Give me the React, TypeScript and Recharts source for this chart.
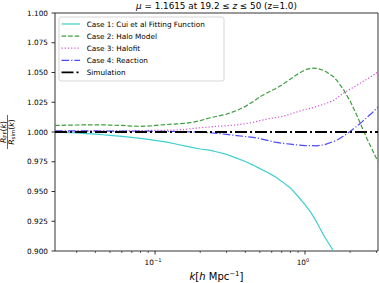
import React from 'react';
import { LineChart, Line, XAxis, YAxis, ReferenceArea, Customized } from 'recharts';

const FONT = '"DejaVu Sans", sans-serif';

const K_VALUES = [0.0215, 0.025, 0.03, 0.035, 0.04, 0.045, 0.05, 0.06, 0.07, 0.08, 0.09, 0.1, 0.12, 0.14, 0.16, 0.18, 0.2, 0.23, 0.26, 0.3, 0.35, 0.4, 0.45, 0.5, 0.56, 0.63, 0.7, 0.8, 0.9, 1.0, 1.1, 1.2, 1.35, 1.55, 1.65, 1.8, 2.0, 2.2, 2.4, 2.6, 2.8, 3.07];

const CASE1 = [1.0, 0.9997, 0.9992, 0.9987, 0.9982, 0.9977, 0.9972, 0.9964, 0.9955, 0.9947, 0.9938, 0.993, 0.9915, 0.9897, 0.9882, 0.9868, 0.9857, 0.9847, 0.9832, 0.9812, 0.978, 0.9752, 0.9722, 0.9692, 0.9662, 0.9625, 0.9585, 0.953, 0.9458, 0.939, 0.932, 0.924, 0.912, 0.9, null, null, null, null, null, null, null, null];

const CASE2 = [1.0055, 1.0057, 1.0059, 1.006, 1.006, 1.006, 1.0058, 1.0055, 1.005, 1.0048, 1.005, 1.0055, 1.0063, 1.0068, 1.0073, 1.0083, 1.0095, 1.0118, 1.0133, 1.015, 1.018, 1.0215, 1.0255, 1.0295, 1.033, 1.0362, 1.0395, 1.0445, 1.049, 1.0522, 1.0537, 1.0535, 1.0515, 1.0465, 1.0425, 1.036, 1.026, 1.015, 1.004, 0.994, 0.9855, 0.975];

const CASE3 = [1.0005, 1.0006, 1.0007, 1.0008, 1.0008, 1.0009, 1.001, 1.001, 1.001, 1.0012, 1.0013, 1.0013, 1.0015, 1.0017, 1.0022, 1.003, 1.0036, 1.0042, 1.0048, 1.0053, 1.006, 1.007, 1.008, 1.0095, 1.011, 1.012, 1.013, 1.015, 1.0172, 1.019, 1.02, 1.0215, 1.0235, 1.0265, 1.029, 1.0325, 1.036, 1.039, 1.042, 1.0445, 1.047, 1.0505];

const CASE4 = [1.001, 1.001, 1.001, 1.001, 1.001, 1.0008, 1.0008, 1.0008, 1.0007, 1.0008, 1.0007, 1.0006, 1.0005, 1.0004, 1.0003, 1.0001, 0.9999, 0.9994, 0.9988, 0.998, 0.997, 0.9962, 0.9955, 0.9945, 0.993, 0.9915, 0.9905, 0.9898, 0.989, 0.9886, 0.9885, 0.9884, 0.9893, 0.992, 0.9935, 0.9965, 1.0005, 1.0045, 1.0085, 1.0125, 1.016, 1.021];

const SIMULATION = K_VALUES.map(() => 1.0);

const X_DOMAIN: [number, number] = [0.0215, 3.07];
const Y_DOMAIN: [number, number] = [0.9, 1.1];
const X_MAJOR = [0.1, 1];
const X_TICKS = [0.03, 0.04, 0.05, 0.06, 0.07, 0.08, 0.09, 0.1, 0.2, 0.3, 0.4, 0.5, 0.6, 0.7, 0.8, 0.9, 1, 2, 3];
const Y_TICKS = [0.9, 0.925, 0.95, 0.975, 1.0, 1.025, 1.05, 1.075, 1.1];

const SERIES = [
  { key: 'case1', label: 'Case 1: Cui et al Fitting Function', color: '#3fcfcf', dash: undefined as string | undefined, width: 1.2 },
  { key: 'case2', label: 'Case 2: Halo Model', color: '#3f9f3f', dash: '4.6 2', width: 1.2 },
  { key: 'case3', label: 'Case 3: Halofit', color: '#d24fd2', dash: '1.2 2', width: 1.2 },
  { key: 'case4', label: 'Case 4: Reaction', color: '#4a4aff', dash: '7.7 2 1.2 2', width: 1.2 },
  { key: 'sim', label: 'Simulation', color: '#000000', dash: '12 3 2 3', width: 1.9 },
];

const DATA = K_VALUES.map((k, i) => ({
  k,
  case1: CASE1[i],
  case2: CASE2[i],
  case3: CASE3[i],
  case4: CASE4[i],
  sim: SIMULATION[i],
}));

const XTick = (props: any) => {
  const { x, y, payload } = props;
  const v = payload.value;
  const major = X_MAJOR.some((m) => Math.abs(m - v) < 1e-9);
  const exp = Math.round(Math.log10(v));
  return (
    <g>
      <line x1={x} x2={x} y1={y} y2={y + (major ? 3.5 : 2)} stroke="#000" strokeWidth={major ? 0.8 : 0.6} />
      {major && (
        <text x={x - 2} y={y + 14} textAnchor="middle" fontSize={7.3} fontFamily={FONT} fill="#000">
          10
          <tspan dy={-3.2} fontSize={5.2}>{exp < 0 ? '\u2212' + Math.abs(exp) : String(exp)}</tspan>
        </text>
      )}
    </g>
  );
};

const YTick = (props: any) => {
  const { x, y, payload } = props;
  return (
    <g>
      <line x1={x} x2={x - 3.5} y1={y} y2={y} stroke="#000" strokeWidth={0.8} />
      <text x={x - 7} y={y} dy="0.35em" textAnchor="end" fontSize={7.3} fontFamily={FONT} fill="#000">
        {Number(payload.value).toFixed(3)}
      </text>
    </g>
  );
};

const Decorations = () => {
  const lx = 59;
  const ly = 17;
  const rowH = 12.1;
  return (
    <g fontFamily={FONT}>
      <text x={216.5} y={8.5} textAnchor="middle" fontSize={8.8} fill="#000">
        <tspan fontStyle="italic">μ</tspan>
        <tspan> = 1.1615 at 19.2 ≤ </tspan>
        <tspan fontStyle="italic">z</tspan>
        <tspan> ≤ 50 (z=1.0)</tspan>
      </text>
      <text x={216.5} y={280} textAnchor="middle" fontSize={10} fill="#000">
        <tspan fontStyle="italic">k</tspan>
        <tspan>[</tspan>
        <tspan fontStyle="italic">h</tspan>
        <tspan> Mpc</tspan>
        <tspan dy={-4} fontSize={7}>{'\u22121'}</tspan>
        <tspan dy={4}>]</tspan>
      </text>
      <g transform="rotate(-90, 7.5, 132)">
        <text x={7.5} y={130.2} textAnchor="middle" fontSize={7.8} fill="#000">
          <tspan fontStyle="italic">R</tspan>
          <tspan dy={1.6} fontSize={5.4}>FF</tspan>
          <tspan dy={-1.6}>(</tspan>
          <tspan fontStyle="italic">k</tspan>
          <tspan>)</tspan>
        </text>
        <line x1={-9.5} x2={24.5} y1={132} y2={132} stroke="#000" strokeWidth={0.6} />
        <text x={7.5} y={138.3} textAnchor="middle" fontSize={7.8} fill="#000">
          <tspan fontStyle="italic">R</tspan>
          <tspan dy={1.6} fontSize={5.4}>sim</tspan>
          <tspan dy={-1.6}>(</tspan>
          <tspan fontStyle="italic">k</tspan>
          <tspan>)</tspan>
        </text>
      </g>
      <rect x={lx} y={ly} width={165} height={64} rx={2} ry={2} fill="#fff" fillOpacity={0.8} stroke="#cccccc" strokeWidth={0.8} />
      {SERIES.map((s, i) => {
        const cy = ly + 7 + i * rowH;
        return (
          <g key={s.key}>
            <line x1={lx + 2.5} x2={lx + 21} y1={cy} y2={cy} stroke={s.color} strokeWidth={s.width} strokeDasharray={s.dash} />
            <text x={lx + 27.7} y={cy} dy="0.35em" fontSize={7.3} fill="#000">{s.label}</text>
          </g>
        );
      })}
    </g>
  );
};

export default function App() {
  return (
    <div style={{ position: 'absolute', left: 0, top: 0, width: 379, height: 283, background: '#fff' }}>
      <LineChart width={379} height={283} data={DATA} margin={{ top: 13, right: 1, left: 0, bottom: 0 }}>
        <XAxis
          dataKey="k"
          type="number"
          scale="log"
          domain={X_DOMAIN}
          allowDataOverflow
          ticks={X_TICKS}
          interval={0}
          tick={<XTick />}
          tickLine={false}
          tickSize={0}
          tickMargin={0}
          axisLine={false}
          height={32}
        />
        <YAxis
          type="number"
          domain={Y_DOMAIN}
          allowDataOverflow
          ticks={Y_TICKS}
          interval={0}
          tick={<YTick />}
          tickLine={false}
          tickSize={0}
          tickMargin={0}
          axisLine={false}
          width={55}
        />
        {SERIES.map((s) => (
          <Line
            key={s.key}
            dataKey={s.key}
            type="linear"
            stroke={s.color}
            strokeWidth={s.width}
            strokeDasharray={s.dash}
            dot={false}
            activeDot={false}
            isAnimationActive={false}
            connectNulls={false}
          />
        ))}
        <ReferenceArea x1={X_DOMAIN[0]} x2={X_DOMAIN[1]} y1={Y_DOMAIN[0]} y2={Y_DOMAIN[1]} fill="none" stroke="#000" strokeWidth={0.8} />
        <Customized component={<Decorations />} />
      </LineChart>
    </div>
  );
}
